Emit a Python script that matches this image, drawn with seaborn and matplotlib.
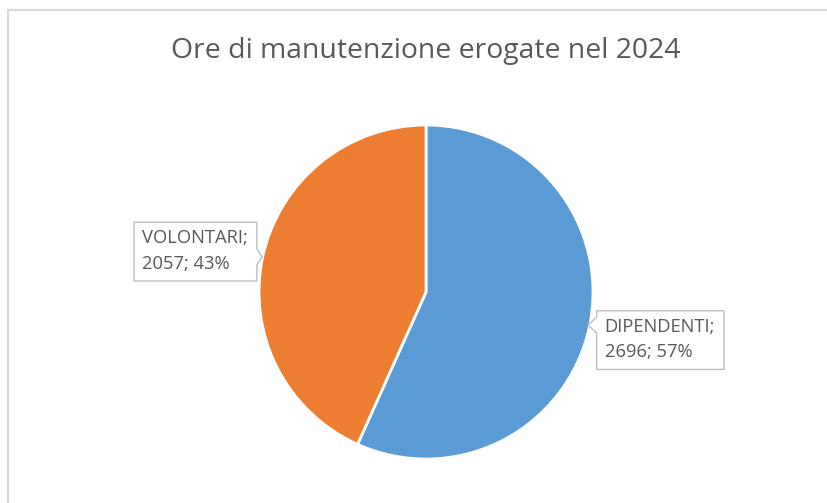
import matplotlib
matplotlib.use("Agg")
import matplotlib.pyplot as plt
import seaborn as sns
from matplotlib.patches import Rectangle, Polygon
from matplotlib.transforms import IdentityTransform

categories = ["DIPENDENTI", "VOLONTARI"]
values = [2696, 2057]
colors = ["#5B9BD5", "#ED7D31"]
title = "Ore di manutenzione erogate nel 2024"

sns.set_theme(style="white")
plt.rcParams['font.family'] = ['Open Sans', 'DejaVu Sans']

W, H = 828, 503
fig = plt.figure(figsize=(W / 100, H / 100), dpi=100)
fig.patch.set_facecolor("white")

cx, cy, r = 426, 292, 167
ax = fig.add_axes([(cx - r) / W, (H - cy - r) / H, 2 * r / W, 2 * r / H])
wedges, _ = ax.pie(values, colors=colors, startangle=90, counterclock=False,
                   radius=1.0, wedgeprops=dict(edgecolor="white", linewidth=2))
ax.set_xlim(-1, 1)
ax.set_ylim(-1, 1)
ax.set_aspect("equal")
ax.axis("off")

total = sum(values)
# text anchor (left edge, vertical center) and pointer tip, in pie units
label_pos = {"DIPENDENTI": (1.07, -0.285), "VOLONTARI": (-1.7, 0.245)}
tip_pos = {"DIPENDENTI": (0.97, -0.198), "VOLONTARI": (-0.982, 0.21)}
texts = {}
for cat, val in zip(categories, values):
    pct = round(val / total * 100)
    txt = f"{cat};\n{val}; {pct}%"
    texts[cat] = ax.text(*label_pos[cat], txt, ha="left", va="center",
                         fontsize=13.2, color="#595959", linespacing=1.55,
                         zorder=5, clip_on=False)

fig.canvas.draw()
renderer = fig.canvas.get_renderer()
for cat in categories:
    bb = texts[cat].get_window_extent(renderer)
    x0, x1 = bb.x0 - 8, bb.x1 + 9
    y0, y1 = bb.y0 - 8, bb.y1 + 7
    tx, ty = ax.transData.transform(tip_pos[cat])
    hw = 8
    by = min(max(ty, y0 + hw + 2), y1 - hw - 2)
    if tx > x1:
        verts = [(x0, y0), (x1, y0), (x1, by - hw), (tx, ty), (x1, by + hw),
                 (x1, y1), (x0, y1)]
    else:
        verts = [(x0, y0), (x1, y0), (x1, y1), (x0, y1), (x0, by + hw),
                 (tx, ty), (x0, by - hw)]
    ax.add_patch(Polygon(verts, closed=True, transform=IdentityTransform(),
                         fc="white", ec="#BFBFBF", lw=1, zorder=4, clip_on=False))
ax.set_xlim(-1, 1)
ax.set_ylim(-1, 1)

fig.text(cx / W, 1 - 51 / H, title, ha="center", va="center",
         fontsize=20.4, color="#595959")

fig.add_artist(Rectangle((8 / W, -0.1), 1.2, 1.1 - 10 / H, transform=fig.transFigure,
                         fill=False, ec="#D9D9D9", lw=1.5))

fig.savefig("out.png", dpi=100, facecolor="white")
